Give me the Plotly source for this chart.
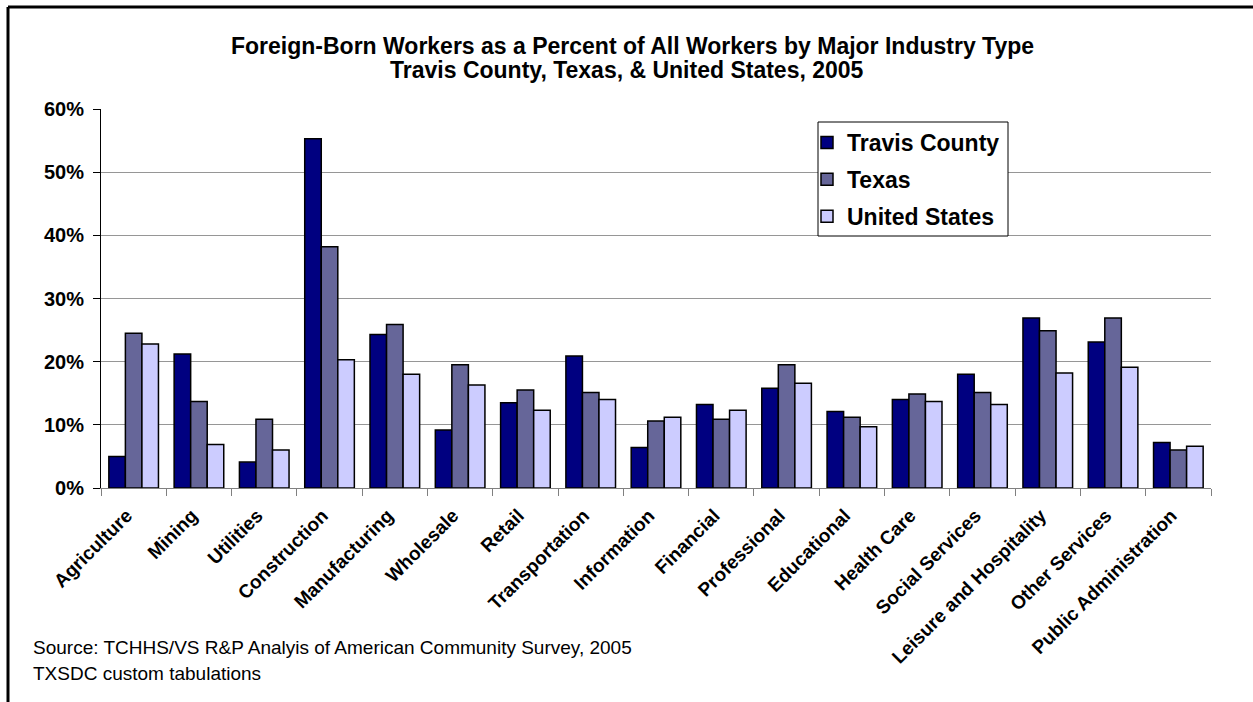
import plotly.graph_objects as go

# Industry categories and foreign-born share of workers (%)
industries = [
    "Agriculture", "Mining", "Utilities", "Construction", "Manufacturing",
    "Wholesale", "Retail", "Transportation", "Information", "Financial",
    "Professional", "Educational", "Health Care", "Social Services",
    "Leisure and Hospitality", "Other Services", "Public Administration",
]
travis_county = [5.0, 21.2, 4.1, 55.3, 24.3, 9.2, 13.5, 20.9, 6.4, 13.2,
                 15.8, 12.1, 14.0, 18.0, 26.9, 23.1, 7.2]
texas = [24.5, 13.7, 10.9, 38.2, 25.9, 19.5, 15.5, 15.1, 10.6, 10.9,
         19.5, 11.2, 14.9, 15.1, 24.9, 26.9, 6.0]
united_states = [22.8, 6.9, 6.0, 20.3, 18.0, 16.3, 12.3, 14.0, 11.2, 12.3,
                 16.6, 9.7, 13.7, 13.2, 18.2, 19.1, 6.6]

y_ticks = [0, 10, 20, 30, 40, 50, 60]
y_tick_labels = ["0%", "10%", "20%", "30%", "40%", "50%", "60%"]

series = [
    ("Travis County", travis_county, "#000080"),
    ("Texas", texas, "#666699"),
    ("United States", united_states, "#CCCCFF"),
]

FONT = "Liberation Sans, Arial, sans-serif"

W, H = 1253, 702
L, R, T, B = 101, 42, 109, 214
plot_w = W - L - R
plot_h = H - T - B


def px_x(px):
    return (px - L) / plot_w


def px_y(py):
    return (H - B - py) / plot_h


fig = go.Figure()
for name, values, color in series:
    fig.add_trace(go.Bar(
        name=name,
        x=industries,
        y=values,
        legendgroup=name,
        marker=dict(color=color, line=dict(color="#000000", width=1.5)),
    ))

fig.update_layout(
    width=W,
    height=H,
    margin=dict(l=L, r=R, t=T, b=B, pad=0),
    paper_bgcolor="white",
    plot_bgcolor="white",
    barmode="group",
    bargap=0.24,
    bargroupgap=0,
    font=dict(family=FONT, color="#000000"),
    showlegend=True,
    legend=dict(
        x=px_x(807), y=px_y(121), xanchor="left", yanchor="top",
        bgcolor="rgba(0,0,0,0)", borderwidth=0,
        font=dict(family=FONT, size=23, weight="bold"),
        tracegroupgap=4,
        traceorder="grouped",
    ),
    xaxis=dict(
        type="category",
        tickangle=-45,
        tickson="boundaries",
        ticks="outside",
        ticklen=7,
        tickcolor="#808080",
        showline=True,
        linecolor="#808080",
        linewidth=1,
        showgrid=False,
        ticklabelshift=-7,
        ticklabelstandoff=8,
        tickfont=dict(family=FONT, size=19, weight="bold"),
    ),
    yaxis=dict(
        range=[0, 60],
        tickvals=y_ticks,
        ticktext=y_tick_labels,
        ticks="outside",
        ticklen=7,
        tickcolor="#000000",
        showline=True,
        linecolor="#000000",
        linewidth=1,
        showgrid=True,
        gridcolor="#969696",
        gridwidth=1,
        zeroline=False,
        ticklabelstandoff=5,
        tickfont=dict(family=FONT, size=20, weight="bold"),
    ),
)

# Legend frame drawn over the gridlines
fig.add_shape(type="rect", xref="paper", yref="paper", layer="above",
              x0=px_x(818), x1=px_x(1008), y0=px_y(122), y1=px_y(236),
              fillcolor="white", line=dict(color="#000000", width=1))

# Two-line bold chart title
fig.add_annotation(
    text="Foreign-Born Workers as a Percent of All Workers by Major Industry Type",
    xref="paper", yref="paper", x=px_x(632), y=px_y(46),
    xanchor="center", yanchor="middle", showarrow=False,
    font=dict(family=FONT, size=23, weight="bold"),
)
fig.add_annotation(
    text="Travis County, Texas, & United States, 2005",
    xref="paper", yref="paper", x=px_x(627), y=px_y(70),
    xanchor="center", yanchor="middle", showarrow=False,
    font=dict(family=FONT, size=23, weight="bold"),
)

# Source notes
fig.add_annotation(
    text="Source: TCHHS/VS R&P Analyis of American Community Survey, 2005",
    xref="paper", yref="paper", x=px_x(31), y=px_y(647),
    xanchor="left", yanchor="middle", showarrow=False,
    font=dict(family=FONT, size=19),
)
fig.add_annotation(
    text="TXSDC custom tabulations",
    xref="paper", yref="paper", x=px_x(31), y=px_y(673),
    xanchor="left", yanchor="middle", showarrow=False,
    font=dict(family=FONT, size=19),
)

# Outer frame (left and top edges)
fig.add_shape(type="line", xref="paper", yref="paper",
              x0=px_x(8), x1=px_x(8), y0=px_y(7), y1=px_y(710),
              line=dict(color="#000000", width=3))
fig.add_shape(type="line", xref="paper", yref="paper",
              x0=px_x(8), x1=px_x(1260), y0=px_y(7), y1=px_y(7),
              line=dict(color="#000000", width=3))

fig.write_html("out.html")
